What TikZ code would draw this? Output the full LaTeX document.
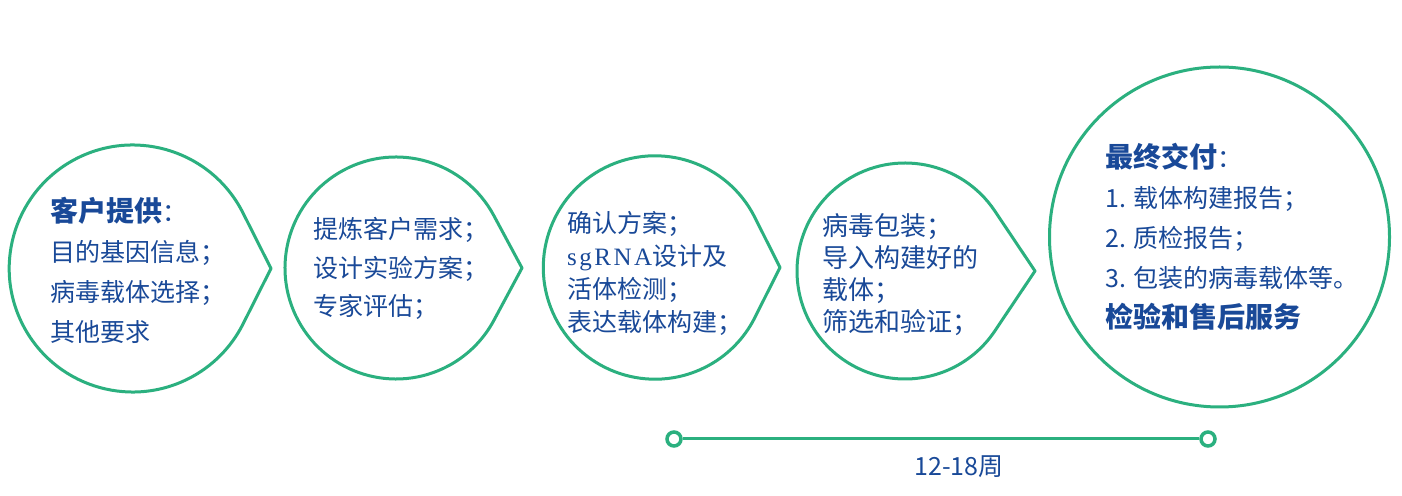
\documentclass[tikz,border=0pt]{standalone}
\usepackage{fontspec}
\setmainfont{Noto Sans CJK SC}
\newfontfamily\latinserif[LetterSpace=10]{Liberation Serif}
\definecolor{bubblegreen}{RGB}{43,176,127}
\definecolor{textblue}{RGB}{25,73,152}
\tikzset{
    textnode/.style={align=left, inner sep=0pt, anchor=west, text=textblue},
    % Step text
    node_step/.style={textnode, font=\fontsize{25}{40}\selectfont},
    node_tight/.style={textnode, font=\fontsize{25}{33}\selectfont},
    % Bubble outline
    bubble_line/.style={draw=bubblegreen, line width=3pt, line join=round},
    time_dot/.style={circle, draw=bubblegreen, fill=white, line width=3.5pt, minimum size=14pt, inner sep=0pt}
}
\newcommand{\headtext}[1]{{\fontsize{28}{40}\selectfont\bfseries #1}}

\begin{document}
\begin{tikzpicture}[x=1pt, y=1pt]
    \fill[white] (0,0) rectangle (1402,495);
    \useasboundingbox (0,0) rectangle (1402,495);

    \foreach \n/\cx/\cy/\r/\tx in {1/132.7/226.5/123.5/271, 2/396/227/111/522, 3/655/227.5/111.7/780, 4/905/224/108/1035}{
        \pgfmathsetmacro\a{acos(\r/(\tx-\cx))}
        \coordinate (c\n) at (\cx,\cy);
        \coordinate (tip\n) at (\tx,\cy);
        \draw[bubble_line] (tip\n) -- ([shift={(\a:\r)}]c\n) arc[start angle=\a, end angle=360-\a, radius=\r] -- cycle;
    }
    \coordinate (c5) at (1219.5,258);
    \draw[bubble_line] (c5) circle[radius=170];

    \node[node_step] (s1) at (50,225) {\headtext{客户提供}：\\目的基因信息；\\病毒载体选择；\\其他要求};
    \node[node_step, font=\fontsize{25}{38.5}\selectfont] (s2) at (313,226.5) {提炼客户需求；\\设计实验方案；\\专家评估；};
    \node[node_tight] (s3) at (567,222) {确认方案；\\{\latinserif sgRNA}设计及\\活体检测；\\表达载体构建；};
    \node[node_tight, font=\fontsize{26}{32}\selectfont] (s4) at (822,220) {病毒包装；\\导入构建好的\\载体；\\筛选和验证；};
    \node[node_step] (s5) at (1105,258) {\headtext{最终交付}：\\1. 载体构建报告；\\2. 质检报告；\\3. 包装的病毒载体等。\\\headtext{检验和售后服务}};

    % time line
    \node[time_dot] (t1) at (674,56) {};
    \node[time_dot] (t2) at (1208,56) {};
    \draw[bubblegreen, line width=3pt] (t1) -- (t2);
    \node[textnode, anchor=center, font=\fontsize{25}{30}\selectfont] (weeks) at (959,28) {12-18周};
\end{tikzpicture}
\end{document}
